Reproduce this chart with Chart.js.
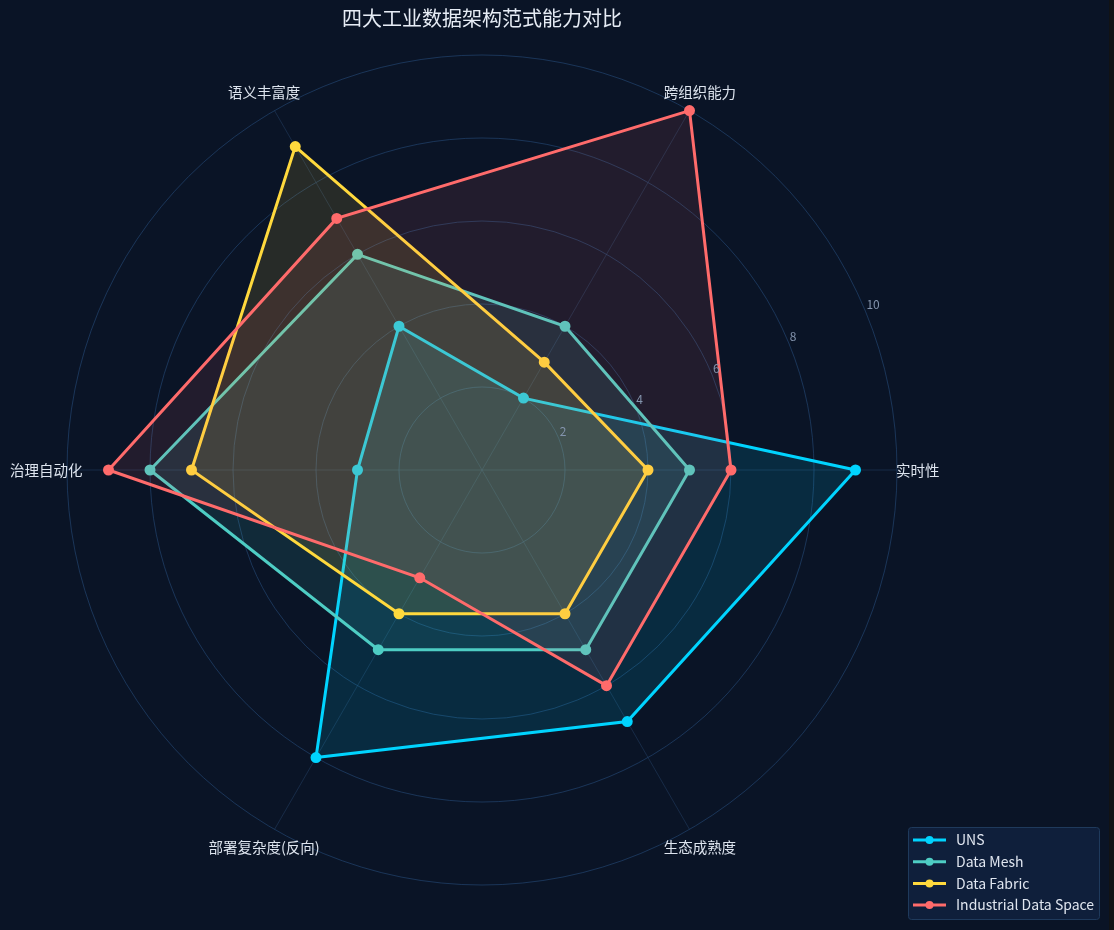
<!DOCTYPE html>
<html>
<head>
<meta charset="utf-8">
<script src="https://cdn.jsdelivr.net/npm/chart.js@4.4.0/dist/chart.umd.min.js"></script>
<style>
  html, body { margin:0; padding:0; background:#111315; }
  #wrap { position:relative; width:1109px; height:930px; }
</style>
</head>
<body>
<div id="wrap"><canvas id="radar"></canvas></div>
<script>
/* DATA (clockwise from the right-hand axis) */
const axes = ['实时性', '生态成熟度', '部署复杂度(反向)', '治理自动化', '语义丰富度', '跨组织能力'];
const unsVals    = [9, 7, 8, 3, 4, 2];
const meshVals   = [5, 5, 5, 8, 6, 4];
const fabricVals = [4, 4, 4, 7, 9, 3];
const idsVals    = [6, 6, 3, 9, 7, 10];
const seriesNames = ['UNS', 'Data Mesh', 'Data Fabric', 'Industrial Data Space'];
const tickVals = [2, 4, 6, 8, 10];
const titleText = '四大工业数据架构范式能力对比';

/* STYLE */
const BG = '#0a1426';
const FONT = '"Noto Sans CJK SC", "Noto Sans", sans-serif';
const colors = ['#00d4ff', '#4ecdc4', '#ffd93d', '#ff6b6b'];
const fills  = ['rgba(0,212,255,0.12)', 'rgba(78,205,196,0.12)', 'rgba(255,217,61,0.12)', 'rgba(255,107,107,0.10)'];

const mkSet = (i, data)=>({
  label: seriesNames[i],
  data,
  borderColor: colors[i],
  backgroundColor: fills[i],
  pointBackgroundColor: colors[i],
  pointBorderColor: colors[i],
  pointRadius: 4,
  pointHoverRadius: 4,
  borderWidth: 3,
  fill: true,
  order: 4 - i
});

/* background, title, axis labels, tick labels, legend */
const decor = {
  id: 'decor',
  beforeDraw(chart){
    const c = chart.ctx;
    c.save();
    c.fillStyle = BG;
    c.fillRect(0, 0, chart.width, chart.height);
    c.restore();
  },
  afterDatasetsDraw(chart){
    const c = chart.ctx;
    const r = chart.scales.r;
    c.save();

    // title
    c.fillStyle = '#e6ecf5';
    c.font = '20px ' + FONT;
    c.textAlign = 'center';
    c.textBaseline = 'middle';
    c.fillText(titleText, r.xCenter, 18);

    // axis labels, centred just outside the outer ring
    c.fillStyle = '#dde4ee';
    c.font = '14.5px ' + FONT;
    const outer = r.getDistanceFromCenterForValue(r.max) * 1.05;
    axes.forEach((lab, i)=>{
      const p = r.getPointPosition(i, outer);
      c.fillText(lab, p.x, p.y);
    });

    // tick labels along 22.5 deg
    c.fillStyle = '#8494ad';
    c.font = '12px ' + FONT;
    c.textAlign = 'left';
    c.textBaseline = 'alphabetic';
    const a = -22.5 * Math.PI / 180;
    tickVals.forEach(v=>{
      const d = r.getDistanceFromCenterForValue(v);
      c.fillText(String(v), r.xCenter + Math.cos(a)*d + 1, r.yCenter + Math.sin(a)*d - 2);
    });

    // legend box
    const lx = 908.5, ly = 827.5, lw = 191, lh = 92;
    c.fillStyle = '#0f1f3b';
    c.strokeStyle = '#1f3a5c';
    c.lineWidth = 1;
    c.beginPath();
    c.roundRect(lx, ly, lw, lh, 3);
    c.fill();
    c.stroke();
    c.font = '14px ' + FONT;
    c.textBaseline = 'middle';
    chart.data.datasets.forEach((ds, i)=>{
      const y = 840 + i * 21.7;
      c.strokeStyle = ds.borderColor;
      c.lineWidth = 3;
      c.beginPath(); c.moveTo(913, y); c.lineTo(946, y); c.stroke();
      c.fillStyle = ds.borderColor;
      c.beginPath(); c.arc(929.5, y, 4, 0, Math.PI*2); c.fill();
      c.fillStyle = '#e0e6f0';
      c.fillText(ds.label, 956, y);
    });
    c.restore();
  }
};

new Chart(document.getElementById('radar'), {
  type: 'radar',
  data: {
    labels: axes,
    datasets: [mkSet(0, unsVals), mkSet(1, meshVals), mkSet(2, fabricVals), mkSet(3, idsVals)]
  },
  options: {
    responsive: true,
    maintainAspectRatio: false,
    animation: false,
    layout: { padding: { left: 67, top: 55, right: 212, bottom: 45 } },
    elements: { line: { tension: 0 } },
    plugins: { legend: { display: false }, title: { display: false }, tooltip: { enabled: false } },
    scales: {
      r: {
        startAngle: 90,
        min: 0,
        max: 10,
        ticks: { display: false, stepSize: 2 },
        pointLabels: { display: false },
        grid: { circular: true, color: 'rgba(40,80,130,0.55)', lineWidth: 1 },
        angleLines: { color: 'rgba(40,70,110,0.45)', lineWidth: 1 }
      }
    }
  },
  plugins: [decor]
});
</script>
</body>
</html>
